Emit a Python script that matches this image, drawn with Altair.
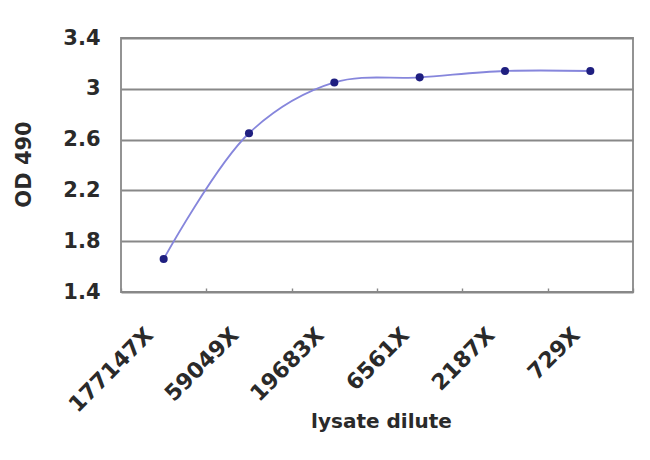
import altair as alt
import pandas as pd

categories = ["177147X", "59049X", "19683X", "6561X", "2187X", "729X"]
od_values = [1.66, 2.65, 3.05, 3.09, 3.14, 3.14]
y_ticks = [1.4, 1.8, 2.2, 2.6, 3.0, 3.4]

df = pd.DataFrame({"dilute": categories, "od": od_values})

FONT = "DejaVu Sans"
TXT = "#2a2a2a"
GRID = "#888888"

xscale = alt.Scale(type="band", paddingInner=0, paddingOuter=0)
yscale = alt.Scale(domain=[1.4, 3.4], nice=False, zero=False)

base = alt.Chart(df)

line = base.mark_line(
    color="#8686dc", strokeWidth=1.8, interpolate="catmull-rom"
).encode(
    x=alt.X(
        "dilute:N", sort=categories, scale=xscale, bandPosition=0.5,
        axis=alt.Axis(
            title="lysate dilute", ticks=False, domain=False, grid=False,
            labelAngle=-45, labelAlign="right", labelBaseline="middle",
            labelPadding=39, labelOffset=-14, labelFont=FONT, labelFontSize=22,
            labelFontWeight="bold", labelColor=TXT,
            titleFont=FONT, titleFontSize=20, titleFontWeight="bold",
            titleColor=TXT, titleX=260, titleY=129, titleAlign="center",
            titleBaseline="middle",
        ),
    ),
    y=alt.Y(
        "od:Q", scale=yscale,
        axis=alt.Axis(
            title="OD 490", values=y_ticks, format="~g", domain=False,
            grid=True, gridColor=GRID, gridWidth=1.8, gridOpacity=1,
            ticks=False,
            labelPadding=21, labelFont=FONT, labelFontSize=21,
            labelFontWeight="bold", labelColor=TXT,
            titleFont=FONT, titleFontSize=21, titleFontWeight="bold",
            titleColor=TXT, titleX=-97, titleY=126, titleAngle=-90,
            titleAlign="center", titleBaseline="middle",
        ),
    ),
)

pts = base.mark_circle(color="#1f1f80", size=65, opacity=1).encode(
    x=alt.X(
        "dilute:N", sort=categories, scale=xscale, bandPosition=0.5,
        axis=alt.Axis(
            orient="bottom", offset=-4, labels=False, title=None,
            domain=False, grid=False, ticks=True, tickSize=4,
            tickBand="extent", tickColor=GRID, tickWidth=1.4,
        ),
    ),
    y=alt.Y("od:Q", scale=yscale),
)

chart = (
    alt.layer(line, pts)
    .resolve_axis(x="independent")
    .properties(
        width=512,
        height=254,
        background="white",
        autosize=alt.AutoSizeParams(type="none"),
        padding={"left": 113, "top": 30, "right": 9, "bottom": 160},
    )
    .configure_view(stroke=GRID, strokeWidth=1.8)
)

chart.save("out.html", embed_options={"renderer": "svg", "actions": False})
